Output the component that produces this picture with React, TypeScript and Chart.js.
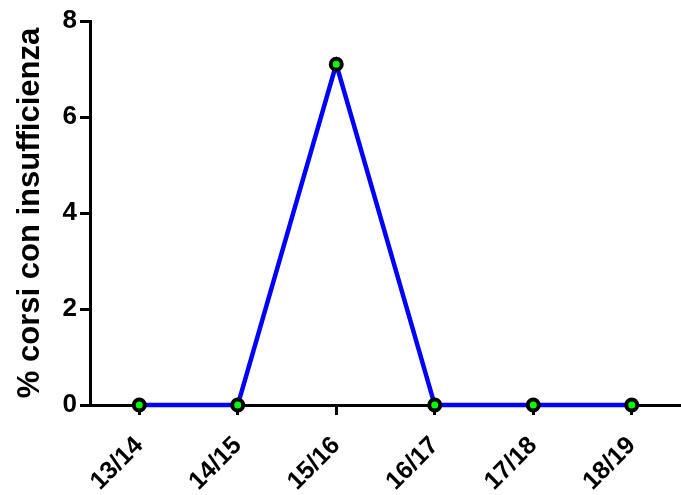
import React, { useEffect, useRef } from "react";
import { Chart, registerables } from "chart.js";

Chart.register(...registerables);

const categories = ["13/14", "14/15", "15/16", "16/17", "17/18", "18/19"];
const percentValues = [0, 0, 7.1, 0, 0, 0];
const yTickValues = [0, 2, 4, 6, 8];
const yTitle = "% corsi con insufficienza";

const FONT = "'Liberation Sans', Arial, Helvetica, sans-serif";

export default function App() {
  const ref = useRef<HTMLCanvasElement | null>(null);

  useEffect(() => {
    if (!ref.current) return;
    const chart = new Chart(ref.current, {
      type: "line",
      data: {
        labels: categories,
        datasets: [
          {
            data: percentValues,
            borderColor: "#0000ff",
            borderWidth: 4.5,
            pointRadius: 5.5,
            pointBorderWidth: 4,
            pointBorderColor: "#000000",
            pointBackgroundColor: "#00ff00",
            pointHoverRadius: 5.5,
            tension: 0,
            clip: false as any,
            fill: false,
          },
        ],
      },
      options: {
        responsive: false,
        animation: false,
        events: [],
        layout: { autoPadding: false, padding: { top: 21, left: 0, right: 0, bottom: 0 } },
        plugins: {
          legend: { display: false },
          tooltip: { enabled: false },
          title: { display: false },
        },
        scales: {
          x: {
            type: "category",
            offset: true,
            grid: {
              display: true,
              drawOnChartArea: false,
              drawTicks: true,
              tickLength: 10,
              tickWidth: 3,
              tickColor: "#000000",
              color: "#000000",
              offset: false,
            },
            border: { display: true, color: "#000000", width: 3 },
            ticks: {
              color: "#000000",
              font: { family: FONT, size: 25, weight: "bold" },
              minRotation: 45,
              maxRotation: 45,
              padding: 16,
              autoSkip: false,
            },
            afterFit: (scale: any) => {
              scale.height = 90;
              scale.paddingLeft = 0;
              scale.paddingRight = 0;
            },
          },
          y: {
            type: "linear",
            min: 0,
            max: 8,
            afterBuildTicks: (scale: any) => {
              scale.ticks = yTickValues.map((v) => ({ value: v }));
            },
            grid: {
              display: true,
              drawOnChartArea: false,
              drawTicks: true,
              tickLength: 10,
              tickWidth: 3,
              tickColor: "#000000",
              color: "#000000",
            },
            border: { display: true, color: "#000000", width: 3 },
            ticks: {
              color: "#000000",
              font: { family: FONT, size: 26, weight: "bold" },
              padding: 3,
            },
            title: {
              display: true,
              text: yTitle,
              color: "#000000",
              font: { family: FONT, size: 31, weight: "bold" },
              padding: { top: 12, bottom: 0 },
            },
            afterFit: (scale: any) => {
              scale.width = 90;
            },
          },
        },
      },
    });
    return () => chart.destroy();
  }, []);

  return (
    <div style={{ position: "absolute", left: 0, top: 0, width: 681, height: 495, background: "#ffffff" }}>
      <canvas ref={ref} width={681} height={495} style={{ display: "block" }} />
    </div>
  );
}
